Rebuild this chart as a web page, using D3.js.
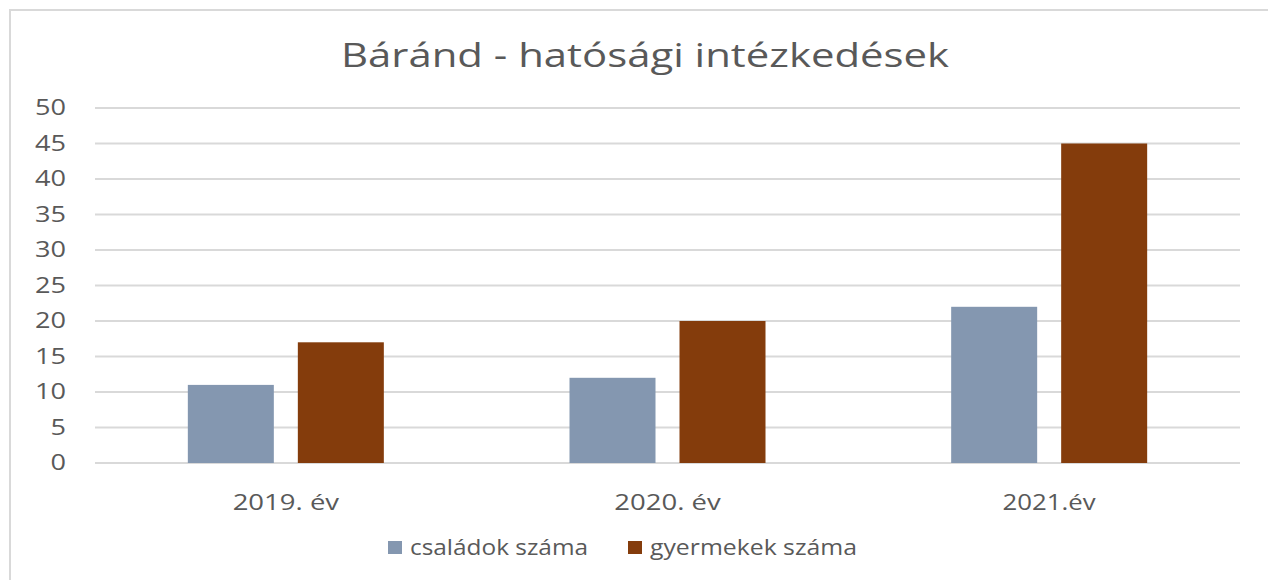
<!DOCTYPE html>
<html>
<head>
<meta charset="utf-8">
<script src="https://cdn.jsdelivr.net/npm/d3@7"></script>
<style>
  body { margin: 0; background: #fff; }
  text { font-family: "Open Sans", sans-serif; fill: #595959; }
</style>
</head>
<body>
<div id="chart"></div>
<script>
const categories = ["2019. év", "2020. év", "2021.év"];
const seriesNames = ["családok száma", "gyermekek száma"];
const csaladok = [11, 12, 22];
const gyermekek = [17, 20, 45];
const yTicks = [0, 5, 10, 15, 20, 25, 30, 35, 40, 45, 50];
const colors = ["#8497b0", "#843c0c"];

const W = 1268, H = 580;
const plot = {left: 95, right: 1240, top: 108, bottom: 463};

const svg = d3.select("#chart").append("svg")
    .attr("width", W)
    .attr("height", H);

// outer frame
svg.append("rect")
    .attr("x", 10).attr("y", 10)
    .attr("width", W + 20).attr("height", H + 20)
    .attr("fill", "none")
    .attr("stroke", "#d9d9d9")
    .attr("stroke-width", 2);

svg.append("text")
    .attr("x", 645).attr("y", 67)
    .attr("text-anchor", "middle")
    .attr("font-size", 33)
    .attr("textLength", 608)
    .attr("lengthAdjust", "spacingAndGlyphs")
    .text("Báránd - hatósági intézkedések");

let x0 = d3.scaleBand().domain(categories).range([plot.left, plot.right]);
let y = d3.scaleLinear().domain([0, 50]).range([plot.bottom, plot.top]);

// gridlines
svg.append("g")
    .selectAll("line")
    .data(yTicks)
    .join("line")
    .attr("x1", plot.left).attr("x2", plot.right)
    .attr("y1", d => y(d)).attr("y2", d => y(d))
    .attr("stroke", "#d9d9d9")
    .attr("stroke-width", 2);

// y axis labels
let yAxis = svg.append("g")
    .attr("transform", "translate(66,0)")
    .call(d3.axisLeft(y).tickValues(yTicks).tickSize(0).tickPadding(0));
yAxis.select(".domain").remove();
yAxis.selectAll("text")
    .attr("font-size", 21)
    .attr("fill", "#595959")
    .attr("font-family", "Open Sans, sans-serif")
    .attr("textLength", d => String(d).length * 15.5)
    .attr("lengthAdjust", "spacingAndGlyphs");

// x axis labels
let xAxis = svg.append("g")
    .attr("transform", "translate(0," + plot.bottom + ")")
    .call(d3.axisBottom(x0).tickSize(0).tickPadding(31));
xAxis.select(".domain").remove();
xAxis.selectAll("text")
    .attr("font-size", 22)
    .attr("fill", "#595959")
    .attr("font-family", "Open Sans, sans-serif")
    .attr("textLength", d => d.length * 13.3)
    .attr("lengthAdjust", "spacingAndGlyphs");

// bars
const barW = 86, gap = 24;
const rows = categories.map((c, i) => ({cat: c, vals: [csaladok[i], gyermekek[i]]}));

let groups = svg.append("g")
    .selectAll("g")
    .data(rows)
    .join("g")
    .attr("transform", d => "translate(" + (x0(d.cat) + x0.bandwidth() / 2) + ",0)");

groups.selectAll("rect")
    .data(d => d.vals.map((v, k) => ({v: v, k: k})))
    .join("rect")
    .attr("x", d => d.k === 0 ? -(gap / 2 + barW) : gap / 2)
    .attr("y", d => y(d.v))
    .attr("width", barW)
    .attr("height", d => y(0) - y(d.v))
    .attr("fill", d => colors[d.k]);

// legend
const legendItems = [
  {x: 388, w: 178, name: seriesNames[0]},
  {x: 628, w: 207, name: seriesNames[1]}
];
let legend = svg.append("g")
    .selectAll("g")
    .data(legendItems)
    .join("g")
    .attr("transform", d => "translate(" + d.x + ",541)");
legend.append("rect")
    .attr("width", 14).attr("height", 13)
    .attr("fill", (d, i) => colors[i]);
legend.append("text")
    .attr("x", 22).attr("y", 14)
    .attr("font-size", 22)
    .attr("textLength", d => d.w)
    .attr("lengthAdjust", "spacingAndGlyphs")
    .text(d => d.name);
</script>
</body>
</html>
